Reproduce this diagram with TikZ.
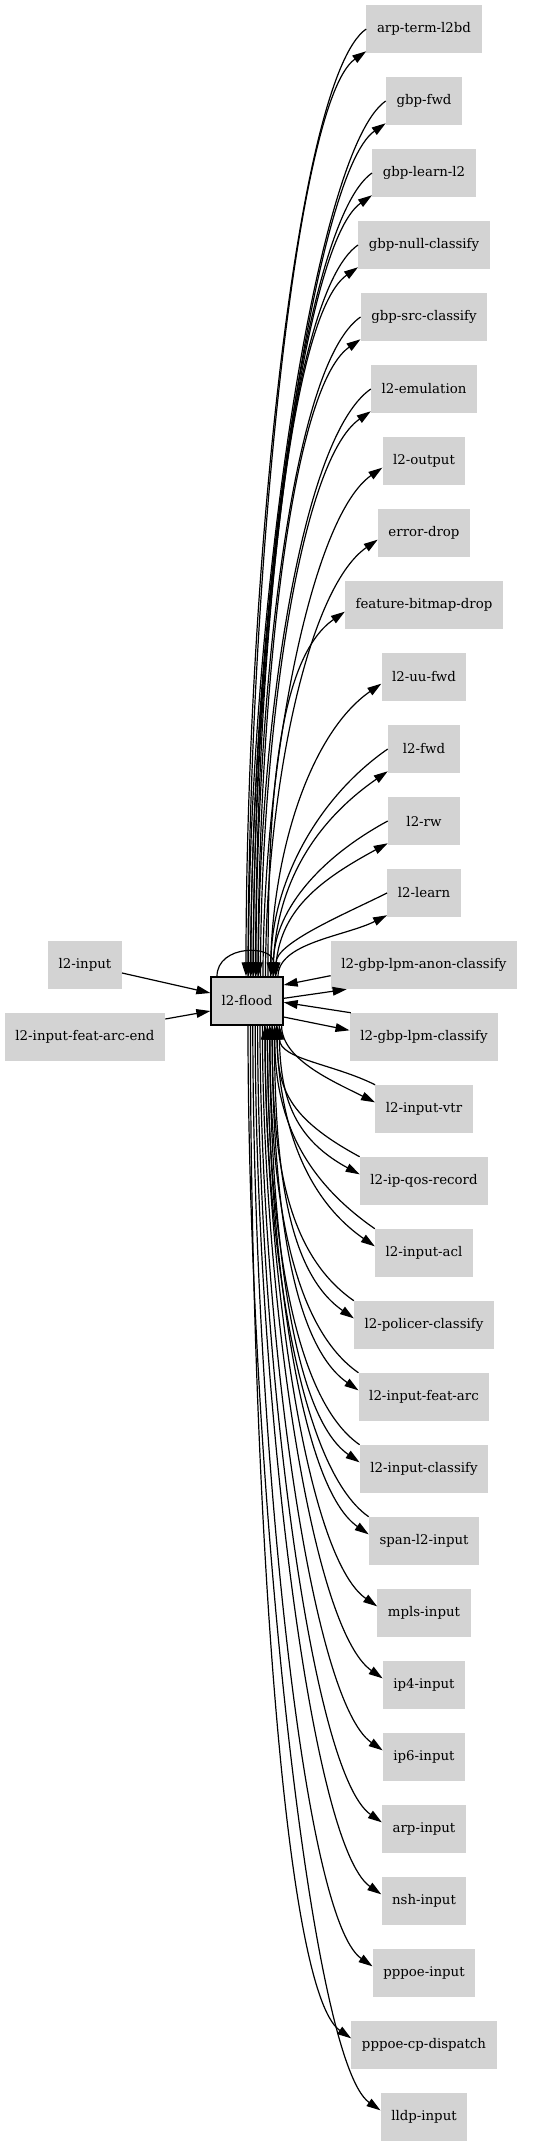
\documentclass[tikz,border=0pt]{standalone}
\usepackage{fontspec}
\setmainfont{DejaVu Serif}
\usetikzlibrary{arrows.meta}
\definecolor{nodegray}{HTML}{D3D3D3}
\tikzset{
  gnode/.style={fill=nodegray, minimum width=54pt, minimum height=36pt, inner xsep=7.9pt, font=\fontsize{10}{12}\selectfont},
  link/.style={line width=0.9pt, -{Triangle[length=10.5pt,width=6.5pt]}}
}
\begin{document}
\begin{tikzpicture}[x=0.75pt,y=-0.75pt]
    \useasboundingbox (0,0) rectangle (533,2147);
    %% Nodes
    \node[gnode, draw=black, line width=1pt] (fl) at (247,1001) {l2-flood};
    \node[gnode] (in) at (85,965) {l2-input};
    \node[gnode] (fae) at (85,1037) {l2-input-feat-arc-end};
    \foreach \name [count=\i] in {arp-term-l2bd,gbp-fwd,gbp-learn-l2,gbp-null-classify,gbp-src-classify,l2-emulation,l2-output,error-drop,feature-bitmap-drop,l2-uu-fwd,l2-fwd,l2-rw,l2-learn,l2-gbp-lpm-anon-classify,l2-gbp-lpm-classify,l2-input-vtr,l2-ip-qos-record,l2-input-acl,l2-policer-classify,l2-input-feat-arc,l2-input-classify,span-l2-input,mpls-input,ip4-input,ip6-input,arp-input,nsh-input,pppoe-input,pppoe-cp-dispatch,lldp-input}
        \node[gnode] (r\i) at (424,{29+72*(\i-1)}) {\name};
    %% Inputs
    \draw[link] ([yshift=-6pt]in.east) -- ([yshift=6pt]fl.west);
    \draw[link] ([yshift=13.5pt]fae.east) -- ([yshift=-7.5pt]fl.west);
    %% Self loop
    \draw[link] ([xshift=-22.5pt]fl.north) .. controls +(0,-32) and +(0,-32) .. ([xshift=20pt]fl.north);
    %% Upper nodes, both ways
    \foreach \i in {1,2,3,4,5,6,11,12,13} {
        \pgfmathsetmacro\xs{0.75+1.875*(\i-1)}
        \pgfmathsetmacro\dy{948-72*(\i-1)}
        \pgfmathsetmacro\k{0.4*\dy}
        \pgfmathsetmacro\cx{min(72,0.5*\dy)}
        \pgfmathsetmacro\cy{min(50,0.25*\dy)}
        \draw[link] ([xshift=\xs pt]fl.north) .. controls +(0,-\k) and +(-\cx,\cy) .. ([yshift=1.5pt]r\i.south west);
        \draw[link] (r\i.west) .. controls +(-\cx,\cy) and +(0,-\k) .. ([xshift=\xs pt-1.5pt]fl.north);
    }
    %% Upper nodes, one way
    \foreach \i in {7,8,9,10} {
        \pgfmathsetmacro\xs{0.75+1.875*(\i-1)}
        \pgfmathsetmacro\dy{948-72*(\i-1)}
        \pgfmathsetmacro\k{0.4*\dy}
        \draw[link] ([xshift=\xs pt]fl.north) .. controls +(0,-\k) and +(-72,50) .. ([yshift=-5pt]r\i.west);
    }
    %% Side nodes
    \draw[link] ([yshift=2pt]fl.east) -- ([xshift=12pt]r14.south west);
    \draw[link] ([yshift=-8pt]r14.west) -- ([yshift=12pt]fl.east);
    \draw[link] ([xshift=1pt]r15.north west) -- ([yshift=-1pt]fl.east);
    \draw[link] ([yshift=-12pt]fl.east) -- ([yshift=5pt]r15.west);
    %% Lower nodes, both ways
    \foreach \i in {16,...,22} {
        \pgfmathsetmacro\xs{0.75*(1+2.4*(30-\i))}
        \pgfmathsetmacro\dy{29+72*(\i-1)-1025}
        \pgfmathsetmacro\k{0.4*\dy}
        \pgfmathsetmacro\cx{min(72,0.5*\dy)}
        \pgfmathsetmacro\cy{min(50,0.25*\dy)}
        \draw[link] ([xshift=\xs pt]fl.south) .. controls +(0,\k) and +(-\cx,-\cy) .. ([yshift=5pt]r\i.west);
        \draw[link] (r\i.north west) .. controls +(-\cx,-\cy) and +(0,\k) .. ([xshift=\xs pt-1.5pt]fl.south);
    }
    %% Lower nodes, one way
    \foreach \i in {23,...,30} {
        \pgfmathsetmacro\xs{0.75*(1+2.4*(30-\i))}
        \pgfmathsetmacro\dy{29+72*(\i-1)-1025}
        \pgfmathsetmacro\k{0.4*\dy}
        \draw[link] ([xshift=\xs pt]fl.south) .. controls +(0,\k) and +(-72,-50) .. ([yshift=5pt]r\i.west);
    }
\end{tikzpicture}
\end{document}
